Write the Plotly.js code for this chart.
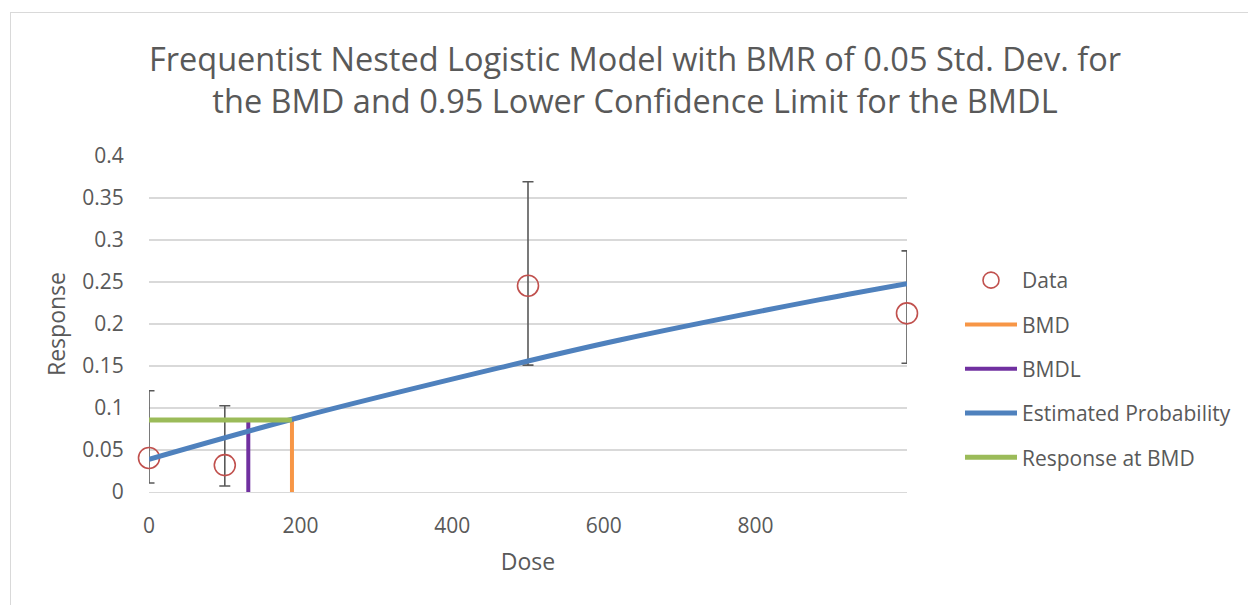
<!DOCTYPE html>
<html>
<head>
<meta charset="utf-8">
<script src="https://cdn.plot.ly/plotly-3.0.1.min.js"></script>
<style>
  html, body { margin: 0; padding: 0; background: #fff; }
  #wrap { position: relative; width: 1248px; height: 605px; overflow: hidden; }
  #frame { position: absolute; left: 10px; top: 12px; width: 1300px; height: 700px;
           border-left: 1px solid #d9d9d9; border-top: 1px solid #d9d9d9; }
  #chart { position: absolute; left: 0; top: 0; width: 1248px; height: 605px; }
</style>
</head>
<body>
<div id="wrap"><div id="frame"></div><div id="chart"></div></div>
<script>
// Observed data
const doseData = [0, 100, 500, 1000];
const respData = [0.0405, 0.032, 0.2456, 0.2127];
const errUpper = [0.1206, 0.1027, 0.3694, 0.2870];
const errLower = [0.0107, 0.0071, 0.1510, 0.1532];

// Fitted model curve
const doseCurve = [0, 199, 463, 621, 885, 1000];
const probCurve = [0.039, 0.089, 0.148, 0.181, 0.229, 0.248];

// Benchmark values
const bmd = 188.6;
const bmdl = 131;
const respAtBmd = 0.0857;

const yTicks = [0, 0.05, 0.1, 0.15, 0.2, 0.25, 0.3, 0.35, 0.4];
const yTickText = ['0', '0.05', '0.1', '0.15', '0.2', '0.25', '0.3', '0.35', '0.4'];
const xTicks = [0, 200, 400, 600, 800];
const xTickText = ['0', '200', '400', '600', '800'];

const FONT = 'Open Sans, Noto Sans, sans-serif';
const GREY = '#595959';

const traces = [
  {
    name: 'Data', x: doseData, y: respData, type: 'scatter', mode: 'markers',
    marker: { symbol: 'circle-open', size: 21, color: '#c0504d', line: { width: 1.6, color: '#c0504d' } },
    error_y: {
      type: 'data', symmetric: false,
      array: respData.map((v, i) => errUpper[i] - v),
      arrayminus: respData.map((v, i) => v - errLower[i]),
      color: '#595959', thickness: 1.6, width: 5.5
    },
    legendgroup: 'a', cliponaxis: false
  },
  {
    name: 'BMD', x: [bmd, bmd], y: [0, respAtBmd], type: 'scatter', mode: 'lines',
    line: { color: '#f79646', width: 4 }, legendgroup: 'b', cliponaxis: false
  },
  {
    name: 'BMDL', x: [bmdl, bmdl], y: [0, respAtBmd], type: 'scatter', mode: 'lines',
    line: { color: '#7030a0', width: 4 }, legendgroup: 'c', cliponaxis: false
  },
  {
    name: 'Estimated Probability', x: doseCurve, y: probCurve, type: 'scatter', mode: 'lines',
    line: { color: '#4f81bd', width: 5, shape: 'spline' }, legendgroup: 'd', cliponaxis: false
  },
  {
    name: 'Response at BMD', x: [0, bmd], y: [respAtBmd, respAtBmd], type: 'scatter', mode: 'lines',
    line: { color: '#9bbb59', width: 5 }, legendgroup: 'e', cliponaxis: false
  }
];

const layout = {
  width: 1248, height: 605,
  paper_bgcolor: 'rgba(0,0,0,0)', plot_bgcolor: 'rgba(0,0,0,0)',
  margin: { l: 149, r: 341, t: 156, b: 113 },
  font: { family: FONT, color: GREY, size: 21 },
  title: {
    text: 'Frequentist Nested Logistic Model with BMR of 0.05 Std. Dev. for<br>the BMD and 0.95 Lower Confidence Limit for the BMDL',
    font: { family: FONT, size: 32.5, color: GREY },
    x: 635 / 1248, xanchor: 'center', xref: 'container',
    y: 1 - 71 / 605, yanchor: 'middle', yref: 'container'
  },
  xaxis: {
    range: [0, 1000], tickvals: xTicks, ticktext: xTickText,
    showgrid: false, zeroline: false, showline: true, linecolor: '#d9d9d9', linewidth: 1.3,
    ticks: 'outside', ticklen: 14, tickcolor: 'rgba(0,0,0,0)',
    tickfont: { family: FONT, size: 21, color: GREY },
    title: { text: 'Dose', font: { family: FONT, size: 23, color: GREY }, standoff: 16 }
  },
  yaxis: {
    range: [0, 0.4], tickvals: yTicks, ticktext: yTickText,
    showgrid: true, gridcolor: '#d9d9d9', gridwidth: 1.3, zeroline: false, showline: false,
    ticks: 'outside', ticklen: 20, tickcolor: 'rgba(0,0,0,0)',
    tickfont: { family: FONT, size: 21, color: GREY },
    title: { text: 'Response', font: { family: FONT, size: 23, color: GREY }, standoff: 10 }
  },
  showlegend: true,
  legend: {
    x: (960 - 149) / 758, xanchor: 'left', y: (492 - 369) / 336, yanchor: 'middle',
    font: { family: FONT, size: 21, color: GREY },
    itemwidth: 52,
    traceorder: 'grouped', tracegroupgap: 14, bgcolor: 'rgba(0,0,0,0)'
  }
};

Plotly.newPlot('chart', traces, layout, { displayModeBar: false, staticPlot: true });
</script>
</body>
</html>
